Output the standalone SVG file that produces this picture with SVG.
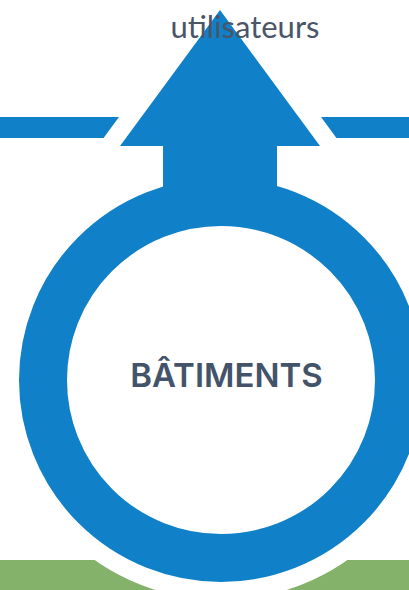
<svg xmlns="http://www.w3.org/2000/svg" width="409" height="590" viewBox="0 0 409 590">
<style>
.blue{fill:#1080C8}
.halo{fill:#fff;stroke:#fff;stroke-width:36;stroke-linejoin:miter}
.lbl{font-family:Lato,"Open Sans",sans-serif;font-size:31px;fill:#4A5568}
.title{font-family:Inter,"Open Sans",sans-serif;font-size:33px;font-weight:600;fill:#435369}
</style>
<defs>
<path id="arrowShape" d="M220,10 L320,146 L277,146 L277,200 L163,200 L163,146 L120,146 Z"/>
</defs>
<g id="connectors">
<rect x="0" y="117" width="409" height="21" class="blue"/>
<rect x="0" y="560" width="409" height="30" fill="#84B26A"/>
</g>
<g id="halo">
<use href="#arrowShape" class="halo"/>
<circle cx="221" cy="380" r="202" class="halo"/>
</g>
<g id="arrow">
<use href="#arrowShape" class="blue"/>
</g>
<g id="ring">
<circle cx="221" cy="380" r="178" fill="#fff" stroke="#1080C8" stroke-width="48"/>
<text x="226.5" y="387" text-anchor="middle" class="title">BÂTIMENTS</text>
</g>
<g id="users">
<text x="245" y="38" text-anchor="middle" class="lbl">utilisateurs</text>
</g>
</svg>
